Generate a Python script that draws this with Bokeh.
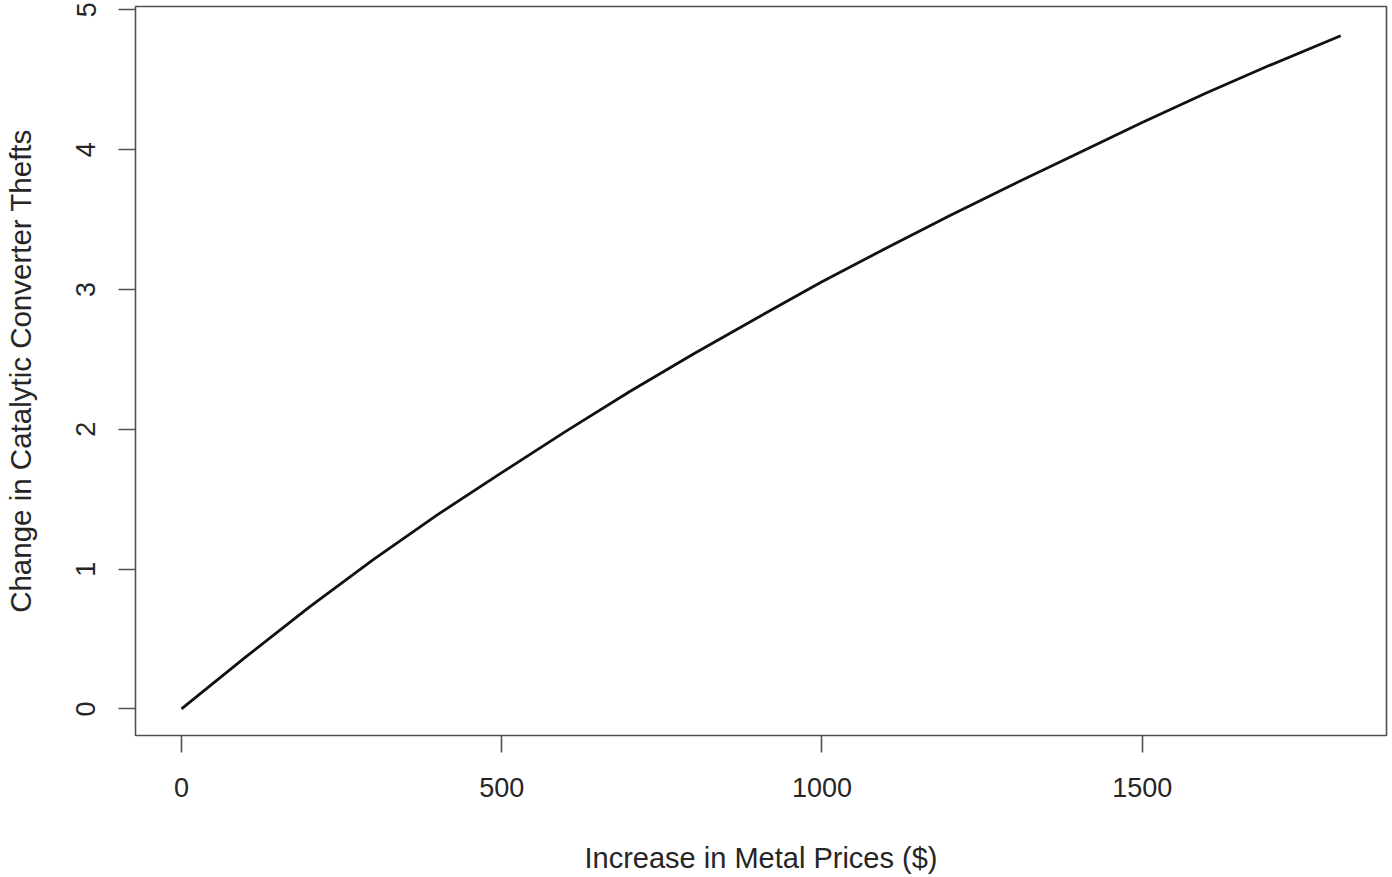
from bokeh.plotting import figure
from bokeh.models import Range1d, FixedTicker
from bokeh.embed import file_html
from bokeh.resources import INLINE

increase = [0, 100, 200, 300, 400, 500, 600, 700, 800, 900, 1000,
            1100, 1200, 1300, 1400, 1500, 1600, 1700, 1810]
change = [0.00, 0.37, 0.73, 1.07, 1.39, 1.69, 1.985, 2.27, 2.54, 2.80, 3.055,
          3.295, 3.53, 3.755, 3.975, 4.195, 4.405, 4.605, 4.815]
x_ticks = [0, 500, 1000, 1500]
y_ticks = [0, 1, 2, 3, 4, 5]

FONT = "Liberation Sans"
TXT = "#262626"
AX = "#505050"

p = figure(width=1392, height=877, output_backend="svg", toolbar_location=None,
           x_range=Range1d(-71.8, 1881.5), y_range=Range1d(-0.19, 5.024),
           min_border_left=135, min_border_right=6, min_border_top=6,
           min_border_bottom=142)

p.line(increase, change, line_color="#111111", line_width=2.8)

p.grid.visible = False
p.background_fill_color = "white"
p.border_fill_color = "white"
p.outline_line_color = AX
p.outline_line_width = 1.6

for ax in (p.xaxis[0], p.yaxis[0]):
    ax.axis_line_color = None
    ax.minor_tick_line_color = None
    ax.major_tick_in = 0
    ax.major_tick_out = 17
    ax.major_tick_line_color = AX
    ax.major_tick_line_width = 1.6
    ax.major_label_text_font = FONT
    ax.major_label_text_font_size = "27px"
    ax.major_label_text_color = TXT
    ax.axis_label_text_font = FONT
    ax.axis_label_text_font_style = "normal"
    ax.axis_label_text_color = TXT

p.xaxis[0].axis_label_text_font_size = "29px"
p.yaxis[0].axis_label_text_font_size = "29.5px"
p.xaxis[0].ticker = FixedTicker(ticks=x_ticks)
p.yaxis[0].ticker = FixedTicker(ticks=y_ticks)
p.xaxis[0].axis_label = "Increase in Metal Prices ($)"
p.yaxis[0].axis_label = "Change in Catalytic Converter Thefts"
p.yaxis[0].major_label_orientation = "vertical"
p.xaxis[0].major_label_standoff = 25
p.yaxis[0].major_label_standoff = 23
p.xaxis[0].axis_label_standoff = 42
p.yaxis[0].axis_label_standoff = 37

open("out.html", "w").write(file_html(p, INLINE))
